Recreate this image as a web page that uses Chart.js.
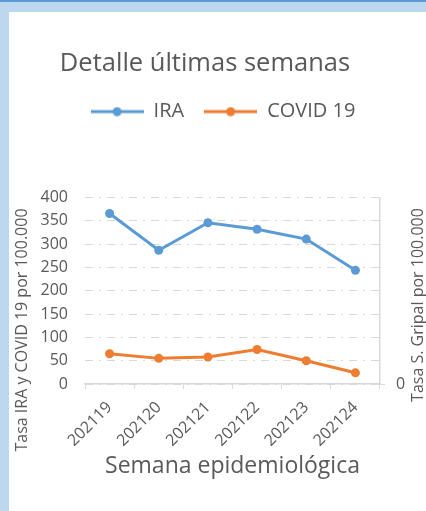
<!DOCTYPE html>
<html>
<head>
<meta charset="utf-8">
<script src="https://cdn.jsdelivr.net/npm/chart.js@4/dist/chart.umd.min.js"></script>
<style>
    html, body { margin: 0; padding: 0; }
    body { width: 426px; height: 511px; background: #bdd7ee; position: relative; overflow: hidden; }
    .topbar { position: absolute; left: 0; top: 0; width: 426px; height: 2px; background: #5b9bd5; }
    .panel { position: absolute; left: 9px; top: 12px; right: 0; bottom: 0; background: #ffffff; }
    #chart { position: absolute; left: 0; top: 0; }
</style>
</head>
<body>
<div class="topbar"></div>
<div class="panel"></div>
<canvas id="chart" width="426" height="511"></canvas>
<script>
// --- data ---
const weeks = ["202119", "202120", "202121", "202122", "202123", "202124"];
const iraValues = [366, 287, 346, 332, 311, 244];
const covidValues = [65, 55, 58, 74, 50, 24];
const leftTicks = [0, 50, 100, 150, 200, 250, 300, 350, 400];
const rightTicks = [0];

const TEXT = '#595959';
const GRID = '#d9d9d9';
const FONT = "'Open Sans', sans-serif";

// legend marker: line with a dot in the middle
function legendMarker(color) {
    const c = document.createElement('canvas');
    c.width = 53; c.height = 10;
    const g = c.getContext('2d');
    g.strokeStyle = color;
    g.lineWidth = 3;
    g.beginPath(); g.moveTo(0, 5); g.lineTo(53, 5); g.stroke();
    g.fillStyle = color;
    g.beginPath(); g.arc(26.5, 5, 4.5, 0, Math.PI * 2); g.fill();
    return c;
}

// rotated axis titles (excel places them off-centre)
const axisTitles = {
    id: 'axisTitles',
    afterDraw(chart) {
        const ctx = chart.ctx, a = chart.chartArea;
        ctx.save();
        ctx.fillStyle = TEXT;
        ctx.font = "16px " + FONT;
        ctx.textAlign = 'center';
        ctx.textBaseline = 'middle';
        ctx.translate(a.left - 63, a.bottom - 54);
        ctx.rotate(-Math.PI / 2);
        ctx.fillText('Tasa IRA y COVID 19 por 100.000', 0, 0);
        ctx.restore();
        ctx.save();
        ctx.fillStyle = TEXT;
        ctx.font = "16px " + FONT;
        ctx.textAlign = 'center';
        ctx.textBaseline = 'middle';
        ctx.translate(a.right + 38, a.bottom - 79);
        ctx.rotate(-Math.PI / 2);
        ctx.fillText('Tasa S. Gripal por 100.000', 0, 0);
        ctx.restore();
    }
};

// extra space under the legend, and nudge title / legend sideways
const legendSpace = {
    id: 'legendSpace',
    beforeInit(chart) {
        const orig = chart.legend.fit;
        chart.legend.fit = function () {
            orig.bind(chart.legend)();
            this.height = 116;
        };
    },
    afterLayout(chart) {
        chart.legend.left += 10;
        chart.legend.right += 10;
        chart.titleBlock.left -= 8;
        chart.titleBlock.right -= 8;
    }
};

const markers = [legendMarker('#5b9bd5'), legendMarker('#ed7d31')];

new Chart(document.getElementById('chart'), {
    type: 'line',
    data: {
        labels: weeks,
        datasets: [{
            label: 'IRA',
            data: iraValues,
            borderColor: '#5b9bd5',
            backgroundColor: '#5b9bd5',
            borderWidth: 3,
            pointRadius: 4.5,
            pointBorderWidth: 0,
            tension: 0,
            yAxisID: 'y'
        }, {
            label: 'COVID 19',
            data: covidValues,
            borderColor: '#ed7d31',
            backgroundColor: '#ed7d31',
            borderWidth: 3,
            pointRadius: 4.5,
            pointBorderWidth: 0,
            tension: 0,
            yAxisID: 'y'
        }]
    },
    options: {
        responsive: false,
        animation: false,
        layout: { padding: 0 },
        plugins: {
            title: {
                display: true,
                text: 'Detalle últimas semanas',
                color: TEXT,
                font: { family: FONT, size: 25.5, weight: 'normal' },
                padding: { top: 48, bottom: 3 }
            },
            legend: {
                labels: {
                    color: TEXT,
                    font: { family: FONT, size: 20 },
                    usePointStyle: true,
                    pointStyleWidth: 53,
                    padding: 20,
                    generateLabels(chart) {
                        const items = Chart.defaults.plugins.legend.labels.generateLabels(chart);
                        items.forEach((it, i) => { it.pointStyle = markers[i]; });
                        return items;
                    }
                }
            },
            tooltip: { enabled: false }
        },
        scales: {
            x: {
                offset: true,
                grid: { display: true, drawOnChartArea: false, drawTicks: true, tickLength: 5, color: GRID, offset: true },
                border: { display: true, color: GRID, width: 1.5 },
                ticks: { color: TEXT, font: { family: FONT, size: 16 }, maxRotation: 45, minRotation: 45, padding: 9 },
                title: {
                    display: true,
                    text: 'Semana epidemiológica',
                    color: TEXT,
                    font: { family: FONT, size: 23 },
                    padding: { top: 31, bottom: 31 }
                },
                afterFit(scale) { scale.height = 127; }
            },
            y: {
                position: 'left',
                min: 0,
                max: 400,
                afterBuildTicks(scale) { scale.ticks = leftTicks.map(v => ({ value: v })); },
                grid: { color: GRID, drawTicks: false, lineWidth: 1 },
                border: { display: false, dash: [8, 6, 2, 6] },
                ticks: { color: TEXT, font: { family: FONT, size: 16 }, padding: 17 },
                afterFit(scale) { scale.width = 85; }
            },
            y2: {
                position: 'right',
                min: 0,
                max: 1,
                afterBuildTicks(scale) { scale.ticks = rightTicks.map(v => ({ value: v })); },
                grid: { drawOnChartArea: false, drawTicks: true, tickLength: 5, color: GRID },
                border: { display: true, color: GRID, width: 1.5 },
                ticks: { color: TEXT, font: { family: FONT, size: 16 }, padding: 11 },
                afterFit(scale) { scale.width = 46; }
            }
        }
    },
    plugins: [legendSpace, axisTitles]
});
</script>
</body>
</html>
